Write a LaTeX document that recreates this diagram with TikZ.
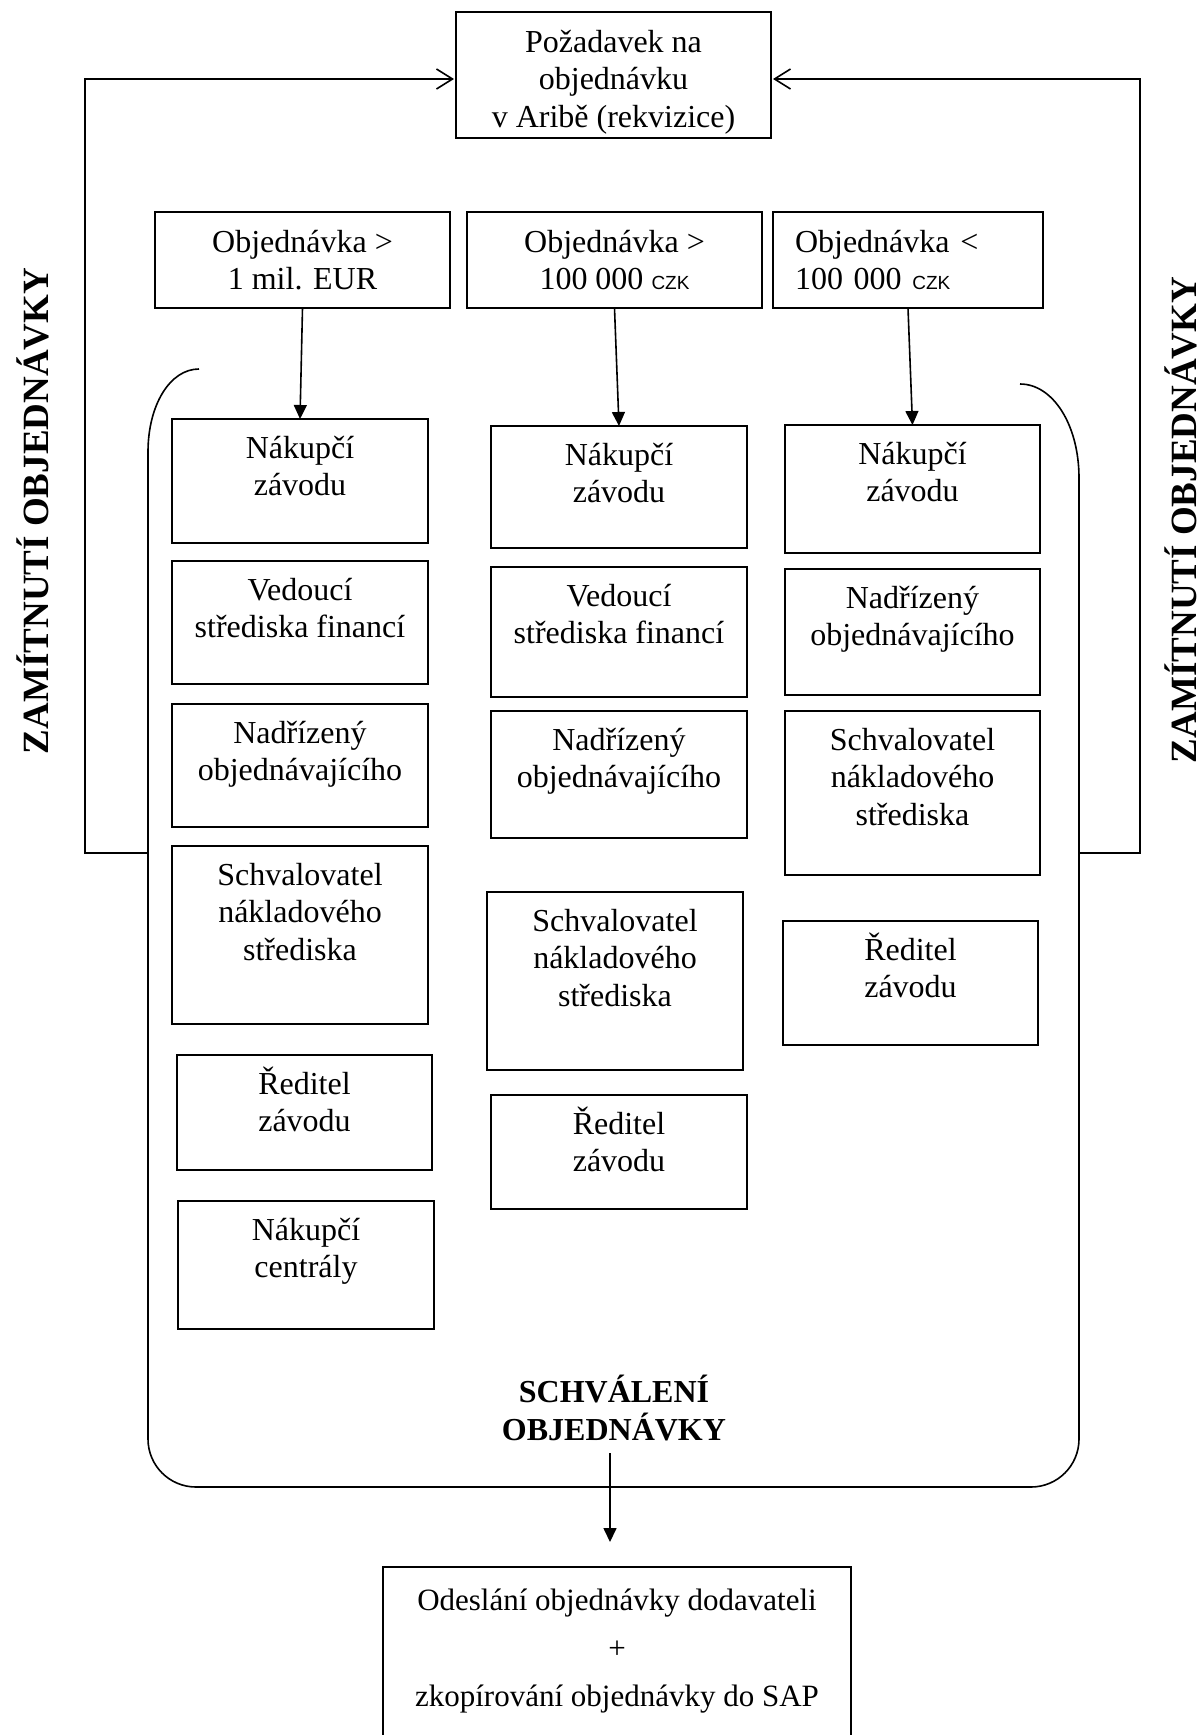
\documentclass[tikz,border=0pt]{standalone}
\usepackage{fontspec}
\setmainfont{Liberation Serif}
\newfontfamily\czkfont{Liberation Sans}
\usetikzlibrary{arrows.meta}
\newcommand\bfs{\fontsize{32}{37.5}\selectfont}
\newcommand\czk{{\czkfont\fontsize{19}{37.5}\selectfont CZK}}
\newcommand\fst{\rule{0pt}{30pt}}
\newcommand\mybox[6]{\node[body, minimum width={(#4-#2)*1pt}, minimum height={(#5-#3)*1pt}, label={[bl, name=#1-t]north:{\fst#6}}] (#1) at (#2,#3) {};}
\begin{document}
\begin{tikzpicture}[x=1pt, y=-1pt,
  ln/.style={line width=1.6pt},
  body/.style={draw, line width=1.6pt, anchor=north west, inner sep=0pt, outer sep=0pt},
  bl/.style={anchor=north, align=center, font=\bfs, inner sep=0pt, yshift=-9pt},
  hdr/.style={draw, line width=1.6pt, anchor=north west, inner sep=0pt, outer sep=0pt, align=center, font=\bfs},
  dn/.style={ln, -{Triangle[length=14pt,width=13pt]}},
  fb/.style={ln, shorten >=2pt, -{Straight Barb[length=16pt,width=20pt,line width=1.6pt]}},
  vt/.style={font=\fontsize{37}{40}\selectfont\bfseries, rotate=90, inner sep=0pt}]
\useasboundingbox (0,0) rectangle (1203,1735);
\clip (0,0) rectangle (1203,1735);
\fill[white] (0,0) rectangle (1203,1735);

% top request box
\node[body, minimum width=315pt, minimum height=126pt,
  label={[bl, name=req-t, yshift=-1pt]north:{\fst Požadavek na\\objednávku\\v Aribě (rekvizice)}}] (req) at (456,12) {};

% header boxes
\node[hdr, minimum width=295pt, minimum height=96pt] (hA) at (155,212) {Objednávka >\\1 mil. EUR};
\node[hdr, minimum width=295pt, minimum height=96pt] (hB) at (467,212) {Objednávka >\\100 000 \czk};
\node[hdr, align=left, text width=226pt, inner xsep=22pt, minimum height=96pt] (hC) at (773,212) {Objednávka <\\100 000 \czk};

% column 1
\mybox{c1a}{172}{419}{428}{543}{Nákupčí\\závodu}
\mybox{c1b}{172}{561}{428}{684}{Vedoucí\\střediska financí}
\mybox{c1c}{172}{704}{428}{827}{Nadřízený\\objednávajícího}
\mybox{c1d}{172}{846}{428}{1024}{Schvalovatel\\nákladového\\střediska}
\mybox{c1e}{177}{1055}{432}{1170}{Ředitel\\závodu}
\mybox{c1f}{178}{1201}{434}{1329}{Nákupčí\\centrály}

% column 2
\mybox{c2a}{491}{426}{747}{548}{Nákupčí\\závodu}
\mybox{c2b}{491}{567}{747}{697}{Vedoucí\\střediska financí}
\mybox{c2c}{491}{711}{747}{838}{Nadřízený\\objednávajícího}
\mybox{c2d}{487}{892}{743}{1070}{Schvalovatel\\nákladového\\střediska}
\mybox{c2e}{491}{1095}{747}{1209}{Ředitel\\závodu}

% column 3
\mybox{c3a}{785}{425}{1040}{553}{Nákupčí\\závodu}
\mybox{c3b}{785}{569}{1040}{695}{Nadřízený\\objednávajícího}
\mybox{c3c}{785}{711}{1040}{875}{Schvalovatel\\nákladového\\střediska}
\mybox{c3d}{783}{921}{1038}{1045}{Ředitel\\závodu}

% arrows from headers
\draw[dn] (hA.south) -- (c1a.north);
\draw[dn] (hB.south) -- (c2a.north);
\draw[dn] (hC.south) -- (c3a.north);

% approval container
\draw[ln] (199,369) .. controls (170,369) and (148,405) .. (148,452);
\draw[ln, rounded corners=48pt] (148,452) -- (148,1487) -- (1079,1487) -- (1079,478);
\draw[ln] (1079,478) .. controls (1079,425) and (1053,384) .. (1020,384);
\node[font=\fontsize{32}{38}\selectfont\bfseries, align=center, inner sep=0pt] (sch) at (614,1408) {SCHVÁLENÍ\\OBJEDNÁVKY};

% rejection feedback
\coordinate (lfb) at (148,853);
\coordinate (rfb) at (1079,853);
\draw[fb] (lfb) -- (85,853) -- (85,79) -- (req.west |- 0,79);
\draw[fb] (rfb) -- (1140,853) -- (1140,79) -- (req.east |- 0,79);
\node[vt] (zl) at (33,511) {ZAMÍTNUTÍ OBJEDNÁVKY};
\node[vt] (zr) at (1181,520) {ZAMÍTNUTÍ OBJEDNÁVKY};

% final box
\node[body, minimum width=468pt, minimum height=200pt,
  label={[name=fin-t, anchor=north, align=center, font=\fontsize{31}{48}\selectfont, inner sep=0pt, yshift=-13pt]north:{\fst Odeslání objednávky dodavateli\\+\\zkopírování objednávky do SAP}}] (fin) at (383,1567) {};
\coordinate (fa1) at (610,1453);
\coordinate (fa2) at (610,1542);
\draw[dn] (fa1) -- (fa2);
\end{tikzpicture}
\end{document}
